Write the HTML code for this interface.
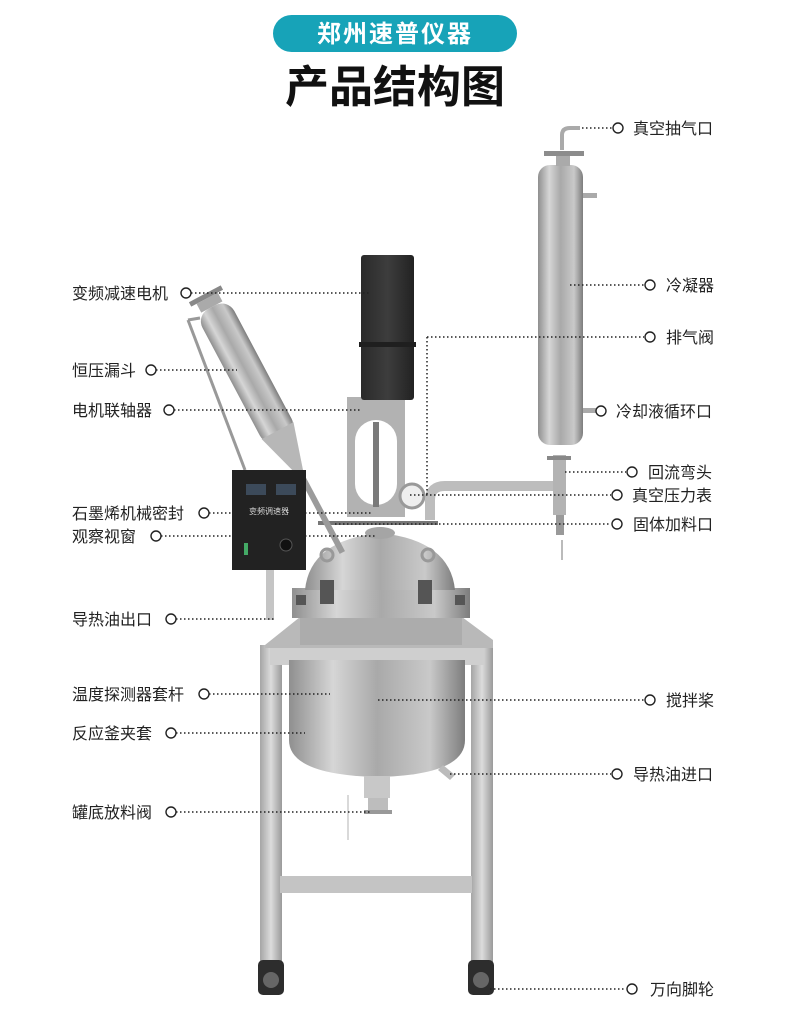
<!DOCTYPE html>
<html><head><meta charset="utf-8"><style>
body{margin:0;background:#fff;width:790px;height:1027px;overflow:hidden;font-family:"Liberation Sans","Noto Sans CJK SC",sans-serif}
</style></head><body>
<svg width="790" height="1027" viewBox="0 0 790 1027" xmlns="http://www.w3.org/2000/svg" font-family="Liberation Sans, Noto Sans CJK SC, sans-serif">
<defs>
<linearGradient id="steel" x1="0" x2="1" y1="0" y2="0">
<stop offset="0" stop-color="#8f8f8f"/><stop offset="0.25" stop-color="#d6d6d6"/><stop offset="0.5" stop-color="#a9a9a9"/><stop offset="0.8" stop-color="#c9c9c9"/><stop offset="1" stop-color="#7d7d7d"/></linearGradient>
<linearGradient id="leg" x1="0" x2="1"><stop offset="0" stop-color="#a5a5a5"/><stop offset="0.5" stop-color="#dcdcdc"/><stop offset="1" stop-color="#9a9a9a"/></linearGradient>
<linearGradient id="motor" x1="0" x2="1"><stop offset="0" stop-color="#2a2a2a"/><stop offset="0.5" stop-color="#3d3d3d"/><stop offset="1" stop-color="#222"/></linearGradient>
</defs>
<!-- header -->
<rect x="273" y="15" width="244" height="37" rx="18.5" fill="#17a3b8"/>
<text x="395" y="42" text-anchor="middle" font-size="24" font-weight="bold" fill="#fff" letter-spacing="2">郑州速普仪器</text>
<text x="395" y="102" text-anchor="middle" font-size="44" font-weight="bold" fill="#111">产品结构图</text>

<!-- frame -->
<rect x="260" y="645" width="22" height="320" fill="url(#leg)"/>
<rect x="471" y="645" width="22" height="320" fill="url(#leg)"/>
<rect x="280" y="876" width="192" height="17" fill="#c4c4c4"/>
<rect x="270" y="648" width="214" height="17" fill="#cfcfcf"/>
<!-- vessel -->
<path d="M289 660 L465 660 L465 740 Q465 775 378 777 Q289 775 289 740 Z" fill="url(#steel)"/>
<path d="M265 645 L300 617 L462 617 L493 640 L493 648 L265 648 Z" fill="#b9b9b9"/>
<path d="M300 617 L462 617 L462 645 L300 645 Z" fill="#a0a0a0" opacity="0.5"/>
<!-- bottom valve -->
<rect x="364" y="776" width="26" height="22" fill="#c8c8c8"/>
<rect x="368" y="798" width="20" height="14" fill="#bdbdbd"/>
<rect x="364" y="810" width="28" height="4" fill="#999"/>
<line x1="348" y1="795" x2="348" y2="840" stroke="#ccc" stroke-width="1.5"/>
<path d="M443 765 L455 775 L450 780 L438 770Z" fill="#bbb"/>
<!-- casters -->
<g fill="#2d2d2d"><rect x="258" y="960" width="26" height="35" rx="5"/><rect x="468" y="960" width="26" height="35" rx="5"/></g>
<g fill="#666"><circle cx="271" cy="980" r="8"/><circle cx="481" cy="980" r="8"/></g>
<!-- flange & lid -->
<rect x="292" y="588" width="178" height="30" fill="url(#steel)"/>
<path d="M305 590 Q310 540 380 533 Q450 540 455 590 Z" fill="url(#steel)"/>
<rect x="320" y="580" width="14" height="24" fill="#555"/>
<rect x="418" y="580" width="14" height="24" fill="#555"/>
<rect x="296" y="595" width="10" height="10" fill="#555"/><rect x="455" y="595" width="10" height="10" fill="#555"/>
<circle cx="327" cy="555" r="6" fill="none" stroke="#999" stroke-width="3"/>
<circle cx="428" cy="555" r="6" fill="none" stroke="#999" stroke-width="3"/>
<ellipse cx="380" cy="533" rx="15" ry="6" fill="#a5a5a5"/>
<rect x="318" y="521" width="120" height="4" fill="#777"/>
<!-- bracket + motor -->
<rect x="347" y="397" width="58" height="120" fill="#b2b2b2"/>
<rect x="355" y="420" width="42" height="85" rx="21" fill="#fff"/>
<rect x="373" y="422" width="6" height="85" fill="#7a7a7a"/>
<rect x="361" y="255" width="53" height="145" rx="3" fill="url(#motor)"/>
<rect x="359" y="342" width="57" height="5" fill="#1f1f1f"/>
<!-- pressure gauge & pipe -->
<circle cx="412" cy="496" r="12" fill="#eee" stroke="#999" stroke-width="3"/>
<path d="M430 520 L430 500 Q430 486 445 486 L556 486" fill="none" stroke="#bdbdbd" stroke-width="10"/>
<rect x="553" y="455" width="13" height="60" fill="#b3b3b3"/>
<rect x="547" y="456" width="24" height="4" fill="#888"/>
<rect x="556" y="515" width="8" height="20" fill="#999"/>
<line x1="562" y1="540" x2="562" y2="560" stroke="#bbb" stroke-width="2"/>
<!-- condenser -->
<rect x="538" y="165" width="45" height="280" rx="12" fill="url(#steel)"/>
<rect x="544" y="151" width="40" height="5" fill="#8c8c8c"/>
<rect x="556" y="156" width="14" height="10" fill="#aaa"/>
<path d="M562 150 L562 135 Q562 128 570 128 L580 128" fill="none" stroke="#aaa" stroke-width="4"/>
<rect x="583" y="193" width="14" height="5" fill="#aaa"/>
<rect x="583" y="408" width="14" height="5" fill="#aaa"/>
<!-- funnel -->
<line x1="188" y1="320" x2="245" y2="470" stroke="#999" stroke-width="3"/>
<line x1="188" y1="320" x2="200" y2="318" stroke="#999" stroke-width="3"/>
<g transform="rotate(-28 240 360)">
<rect x="222" y="300" width="36" height="150" rx="14" fill="url(#steel)"/>
<path d="M222 440 L258 440 L243 490 L237 490Z" fill="#b7b7b7"/>
<rect x="237" y="488" width="6" height="90" fill="#9b9b9b"/>
<rect x="228" y="290" width="24" height="10" fill="#aaa"/>
<rect x="222" y="285" width="36" height="5" fill="#888"/>
</g>
<!-- control box -->
<rect x="232" y="470" width="74" height="100" fill="#222"/>
<rect x="246" y="484" width="20" height="11" fill="#3c4a5a"/><rect x="276" y="484" width="20" height="11" fill="#3c4a5a"/>
<text x="269" y="514" text-anchor="middle" font-size="8" fill="#ddd">变频调速器</text>
<circle cx="286" cy="545" r="6" fill="#111" stroke="#555"/>
<rect x="244" y="543" width="4" height="12" fill="#4a6"/>
<rect x="266" y="570" width="8" height="50" fill="#c5c5c5"/>

<!-- leader lines -->
<g stroke="#222" stroke-width="1.5" stroke-dasharray="1.5 2.5" fill="none">
<line x1="191" y1="293" x2="370" y2="293"/>
<line x1="156" y1="370" x2="237" y2="370"/>
<line x1="174" y1="410" x2="360" y2="410"/>
<line x1="209" y1="513" x2="372" y2="513"/>
<line x1="161" y1="536" x2="375" y2="536"/>
<line x1="176" y1="619" x2="275" y2="619"/>
<line x1="209" y1="694" x2="330" y2="694"/>
<line x1="176" y1="733" x2="305" y2="733"/>
<line x1="176" y1="812" x2="372" y2="812"/>
<line x1="582" y1="128" x2="612" y2="128"/>
<line x1="570" y1="285" x2="644" y2="285"/>
<line x1="427" y1="337" x2="644" y2="337"/>
<line x1="427" y1="337" x2="427" y2="495"/>
<line x1="565" y1="472" x2="626" y2="472"/>
<line x1="410" y1="495" x2="611" y2="495"/>
<line x1="335" y1="524" x2="611" y2="524"/>
<line x1="378" y1="700" x2="644" y2="700"/>
<line x1="450" y1="774" x2="611" y2="774"/>
<line x1="490" y1="989" x2="626" y2="989"/>
</g>
<g stroke="#222" stroke-width="1.4" fill="#fff">
<circle cx="186" cy="293" r="5"/><circle cx="151" cy="370" r="5"/><circle cx="169" cy="410" r="5"/>
<circle cx="204" cy="513" r="5"/><circle cx="156" cy="536" r="5"/><circle cx="171" cy="619" r="5"/>
<circle cx="204" cy="694" r="5"/><circle cx="171" cy="733" r="5"/><circle cx="171" cy="812" r="5"/>
<circle cx="618" cy="128" r="5"/><circle cx="650" cy="285" r="5"/><circle cx="650" cy="337" r="5"/>
<circle cx="601" cy="411" r="5"/><circle cx="632" cy="472" r="5"/><circle cx="617" cy="495" r="5"/>
<circle cx="617" cy="524" r="5"/><circle cx="650" cy="700" r="5"/><circle cx="617" cy="774" r="5"/>
<circle cx="632" cy="989" r="5"/>
</g>
<g font-size="16" fill="#222">
<text x="72" y="299">变频减速电机</text>
<text x="72" y="376">恒压漏斗</text>
<text x="72" y="416">电机联轴器</text>
<text x="72" y="519">石墨烯机械密封</text>
<text x="72" y="542">观察视窗</text>
<text x="72" y="625">导热油出口</text>
<text x="72" y="700">温度探测器套杆</text>
<text x="72" y="739">反应釜夹套</text>
<text x="72" y="818">罐底放料阀</text>
<text x="633" y="134">真空抽气口</text>
<text x="666" y="291">冷凝器</text>
<text x="666" y="343">排气阀</text>
<text x="616" y="417">冷却液循环口</text>
<text x="648" y="478">回流弯头</text>
<text x="632" y="501">真空压力表</text>
<text x="633" y="530">固体加料口</text>
<text x="666" y="706">搅拌桨</text>
<text x="633" y="780">导热油进口</text>
<text x="650" y="995">万向脚轮</text>
</g>
</svg>
</body></html>
